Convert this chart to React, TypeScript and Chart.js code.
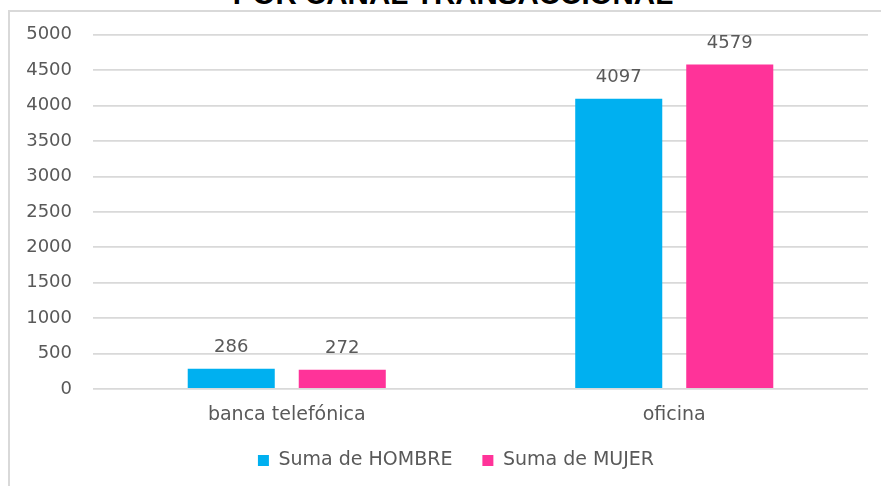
import React, { useEffect, useRef } from "react";
import { Chart, registerables } from "chart.js";

Chart.register(...registerables);

const title = "POR CANAL TRANSACCIONAL";
const categories = ["banca telefónica", "oficina"];
const seriesNames = ["Suma de HOMBRE", "Suma de MUJER"];
const hombre = [286, 4097];
const mujer = [272, 4579];
const seriesColors = ["#00B0F0", "#FF3399"];
const yMin = 0;
const yMax = 5000;
const yStep = 500;

const FONT = "'DejaVu Sans', sans-serif";
const TEXT = "#595959";

const valueLabels = {
  id: "valueLabels",
  afterDatasetsDraw(chart: any) {
    const ctx = chart.ctx;
    ctx.save();
    ctx.font = `18px ${FONT}`;
    ctx.fillStyle = TEXT;
    ctx.textAlign = "center";
    ctx.textBaseline = "middle";
    chart.data.datasets.forEach((ds: any, i: number) => {
      const meta = chart.getDatasetMeta(i);
      meta.data.forEach((el: any, j: number) => {
        ctx.fillText(String(ds.data[j]), el.x, el.y - 21);
      });
    });
    ctx.restore();
  },
};

const legendShift = {
  id: "legendShift",
  afterLayout(chart: any) {
    if (chart.legend) {
      chart.legend.left += 17;
      chart.legend.right += 17;
    }
  },
};

export default function App() {
  const ref = useRef<HTMLCanvasElement | null>(null);

  useEffect(() => {
    document.body.style.margin = "0";
    if (!ref.current) return;
    const chart = new Chart(ref.current, {
      type: "bar",
      data: {
        labels: categories,
        datasets: [
          {
            label: seriesNames[0],
            data: hombre,
            backgroundColor: seriesColors[0],
            categoryPercentage: 0.573,
            barPercentage: 0.784,
          },
          {
            label: seriesNames[1],
            data: mujer,
            backgroundColor: seriesColors[1],
            categoryPercentage: 0.573,
            barPercentage: 0.784,
          },
        ],
      },
      options: {
        animation: false,
        responsive: false,
        maintainAspectRatio: false,
        layout: { padding: { top: 14, right: 13, bottom: 6, left: 0 } },
        plugins: {
          title: { display: false },
          tooltip: { enabled: false },
          legend: {
            position: "bottom",
            labels: {
              boxWidth: 11,
              boxHeight: 11,
              padding: 30,
              color: TEXT,
              font: { family: FONT, size: 19 },
            },
          },
        },
        scales: {
          x: {
            grid: { display: false, drawTicks: false },
            border: { display: false },
            ticks: { color: TEXT, font: { family: FONT, size: 19 }, padding: 15 },
            afterFit(scale: any) {
              scale.height = 32;
            },
          },
          y: {
            min: yMin,
            max: yMax,
            grid: { color: "#d9d9d9", lineWidth: 1.8, drawTicks: false },
            border: { display: false },
            ticks: {
              stepSize: yStep,
              color: TEXT,
              padding: 21,
              font: { family: FONT, size: 18 },
              callback: (v: any) => String(v),
            },
            afterFit(scale: any) {
              scale.width = 83;
            },
          },
        },
      },
      plugins: [valueLabels, legendShift],
    });
    return () => chart.destroy();
  }, []);

  return (
    <div
      style={{
        position: "absolute",
        left: 0,
        top: 0,
        width: 881,
        height: 486,
        overflow: "hidden",
        background: "#fff",
      }}
    >
      <div
        style={{
          position: "absolute",
          left: 0,
          width: 906,
          top: -21,
          lineHeight: "29.5px",
          textAlign: "center",
          fontFamily: "'Liberation Sans', Arial, sans-serif",
          fontWeight: "bold",
          fontSize: 29.5,
          color: "#000",
          whiteSpace: "nowrap",
        }}
      >
        {title}
      </div>
      <div
        style={{
          position: "absolute",
          left: 8,
          top: 10,
          width: 900,
          height: 500,
          borderTop: "2px solid #d9d9d9",
          borderLeft: "2px solid #d9d9d9",
        }}
      />
      <canvas
        ref={ref}
        width={871}
        height={483}
        style={{ position: "absolute", left: 10, top: 3, width: 871, height: 483 }}
      />
    </div>
  );
}
